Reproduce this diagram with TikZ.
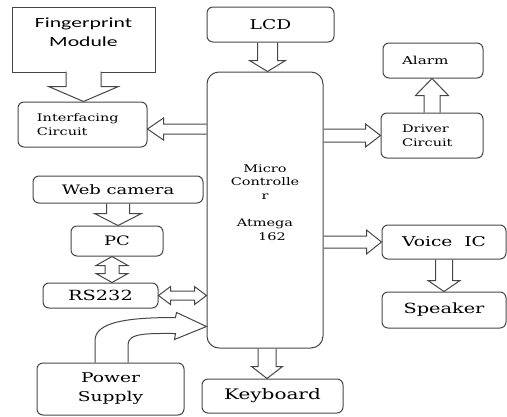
\documentclass[tikz,border=0pt]{standalone}
\usepackage{fontspec}
\usepackage{graphicx}
\setmainfont{DejaVu Serif}
\newfontfamily\fpfont{Carlito}
\usetikzlibrary{calc}
\definecolor{edge}{RGB}{70,70,70}
\newcommand{\fsz}[2]{\fontsize{#1}{#2}\selectfont}
\newcommand{\wide}[1]{\scalebox{1.38}[1]{#1}}
\newcommand{\fpwide}[1]{\scalebox{1.55}[1]{#1}}
\tikzset{
  blk/.style={draw=edge, line width=1pt, rounded corners=6pt, inner sep=0pt, align=center},
  % hollow block arrow: #1 half shaft, #2 half head, #3 head length
  fat/.style n args={3}{draw=edge, line width=1pt, to path={
    let \p1=(\tikztostart), \p2=(\tikztotarget),
        \n1={veclen(\x2-\x1,\y2-\y1)},
        \n2={(\x2-\x1)/\n1}, \n3={(\y2-\y1)/\n1} in
    ({\x1-\n3*#1},{\y1+\n2*#1})
    -- ({\x2-\n2*#3-\n3*#1},{\y2-\n3*#3+\n2*#1})
    -- ({\x2-\n2*#3-\n3*#2},{\y2-\n3*#3+\n2*#2})
    -- (\x2,\y2)
    -- ({\x2-\n2*#3+\n3*#2},{\y2-\n3*#3-\n2*#2})
    -- ({\x2-\n2*#3+\n3*#1},{\y2-\n3*#3-\n2*#1})
    -- ({\x1+\n3*#1},{\y1-\n2*#1})}},
  fatboth/.style n args={3}{draw=edge, line width=1pt, to path={
    let \p1=(\tikztostart), \p2=(\tikztotarget),
        \n1={veclen(\x2-\x1,\y2-\y1)},
        \n2={(\x2-\x1)/\n1}, \n3={(\y2-\y1)/\n1} in
    ({\x1+\n2*#3-\n3*#1},{\y1+\n3*#3+\n2*#1})
    -- ({\x2-\n2*#3-\n3*#1},{\y2-\n3*#3+\n2*#1})
    -- ({\x2-\n2*#3-\n3*#2},{\y2-\n3*#3+\n2*#2})
    -- (\x2,\y2)
    -- ({\x2-\n2*#3+\n3*#2},{\y2-\n3*#3-\n2*#2})
    -- ({\x2-\n2*#3+\n3*#1},{\y2-\n3*#3-\n2*#1})
    -- ({\x1+\n2*#3+\n3*#1},{\y1+\n3*#3-\n2*#1})
    -- ({\x1+\n2*#3+\n3*#2},{\y1+\n3*#3-\n2*#2})
    -- (\x1,\y1)
    -- ({\x1+\n2*#3-\n3*#2},{\y1+\n3*#3+\n2*#2})
    -- cycle}},
  feed/.style={draw=edge, line width=1pt}
}

\begin{document}
\begin{tikzpicture}[x=1pt, y=-1pt]
  \useasboundingbox (0,0) rectangle (507,416);
  % input side
  \node[blk, rounded corners=0pt, minimum width=143, minimum height=65] (fp) at (83.5,39.5) {};
  \node[font=\fpfont\fsz{14}{19}, align=center] (fptext) at ($(fp.center)+(0,-7)$)
    {\fpwide{Fingerprint}\\\fpwide{Module}};
  \node[blk, minimum width=129, minimum height=45, text width=91, align=left,
        font=\fsz{10.5}{14}] (ic) at (82.5,124.5) {\wide{Interfacing}\\\wide{Circuit}};
  \node[blk, minimum width=170, minimum height=27, font=\fsz{13}{17}] (web) at (118,189.5) {\wide{Web camera}};
  \node[blk, minimum width=92, minimum height=30, font=\fsz{13}{17}] (pc) at (117,241) {\wide{PC}};
  \node[blk, minimum width=115, minimum height=25, font=\fsz{14}{18}] (rs) at (100.5,295.5) {\wide{RS232}};
  \node[blk, minimum width=147, minimum height=52, font=\fsz{13.5}{19}] (ps) at (110.5,389)
    {\wide{Power}\\\wide{Supply}};
  % controller
  \node[blk, rounded corners=12pt, minimum width=116, minimum height=276] (mc) at (265,210) {};
  \node[font=\fsz{10.5}{13.7}, align=center] (mctext) at (265,202.5)
    {\wide{Micro}\\\wide{Controlle}\\\wide{r}\\[13.7pt]\wide{Atmega}\\\hspace*{14pt}\wide{162}};
  \node[blk, minimum width=127, minimum height=35, font=\fsz{13.5}{18}] (lcd) at (270.5,24.5) {\wide{LCD}};
  \node[blk, minimum width=141, minimum height=34, font=\fsz{14.5}{19}] (kb) at (272.5,396) {\wide{Keyboard}};
  % output side
  \node[blk, minimum width=100, minimum height=35, text width=62, align=left,
        font=\fsz{11}{14}] (al) at (433,60.5) {\wide{Alarm}};
  \node[blk, minimum width=102, minimum height=45, text width=60, align=left,
        font=\fsz{10.5}{14.5}] (dc) at (432,135.5) {\wide{Driver}\\\wide{Circuit}};
  \node[blk, minimum width=124, minimum height=34, font=\fsz{13.5}{18}] (vic) at (444,242) {\wide{Voice\ \ IC}};
  \node[blk, minimum width=124, minimum height=36, font=\fsz{14}{18}] (spk) at (444,310) {\wide{Speaker}};

  % block arrows
  \draw[fat={17.5}{35}{15}, fill=white] ([yshift=1pt]fp.south) to (fp.south |- ic.north);
  \draw[fat={10}{18}{11}] ([xshift=-3pt]lcd.south) to ([xshift=-3pt]lcd.south |- mc.north);
  \draw[fat={5}{11}{16}] ([yshift=-4.5pt]mc.west |- ic.east) to ([yshift=-4.5pt]ic.east);
  \draw[fat={6.5}{11.5}{15}] (mc.east |- dc.west) to (dc.west);
  \draw[fat={8}{16.5}{17}] (dc.north) to (dc.north |- al.south);
  \draw[fat={6}{12}{15}] (mc.east |- vic.west) to (vic.west);
  \draw[fat={8.5}{16}{11}] (vic.south) to (vic.south |- spk.north);
  \draw[fat={9}{15.5}{12}] ([xshift=2pt]mc.south) to ([xshift=2pt]mc.south |- kb.north);
  \draw[fat={11.5}{23.5}{12}] (web.south) to (web.south |- pc.north);
  \draw[fatboth={7}{16}{9}] ([xshift=-5pt]pc.south) to ([xshift=-5pt]pc.south |- rs.north);
  \draw[fatboth={4.5}{9}{12}] (rs.east) to (rs.east -| mc.west);
  % power feed
  \coordinate (pin) at ($(mc.south west)+(0,-22)$);
  \draw[feed] ($(ps.north)+(-15.5,0)$) -- ($(ps.north)+(-15.5,-22)$)
    .. controls ($(ps.north)+(-15.5,-41)$) and ($(pin)+(-77,-9)$) .. ($(pin)+(-31,-9)$)
    -- ($(pin)+(-30,-14)$) -- (pin) -- ($(pin)+(-32,13)$) -- ($(pin)+(-31,7)$)
    .. controls ($(pin)+(-57,7)$) and ($(ps.north)+(17.5,-30)$) .. ($(ps.north)+(17.5,-18)$)
    -- ($(ps.north)+(17.5,0)$);
\end{tikzpicture}
\end{document}
